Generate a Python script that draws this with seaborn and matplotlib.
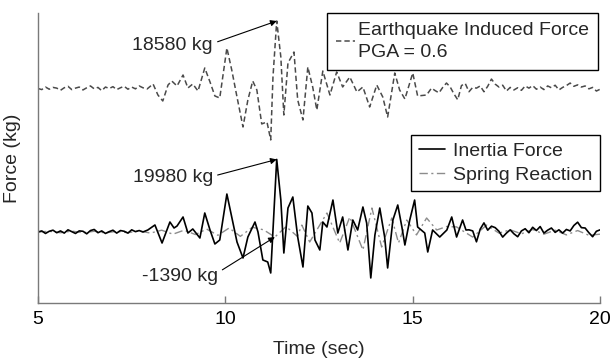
import matplotlib
matplotlib.use("Agg")
import matplotlib.pyplot as plt
import seaborn as sns
import pandas as pd

# Vertical shift that lifts the excitation trace above the response traces
EQ_OFFSET = 39500

# Earthquake induced force (kg)
eq_time = [5.0, 5.1, 5.2, 5.3, 5.4, 5.5, 5.6, 5.7, 5.8, 5.9, 6.0, 6.1, 6.2, 6.3, 6.4,
           6.5, 6.6, 6.7, 6.8, 6.9, 7.0, 7.1, 7.2, 7.3, 7.4, 7.5, 7.6, 7.7, 7.8,
           7.91, 8.07, 8.2, 8.33, 8.47, 8.57, 8.71, 8.87, 9.0, 9.13, 9.27, 9.45, 9.59,
           9.72, 9.85, 10.04, 10.17, 10.31, 10.47, 10.6, 10.73, 10.84, 10.97, 11.11,
           11.21, 11.27, 11.37, 11.48, 11.56, 11.67, 11.83, 11.93, 12.07, 12.2, 12.33,
           12.44, 12.6, 12.79, 12.97, 13.13, 13.32, 13.51, 13.67, 13.85, 14.04, 14.2,
           14.33, 14.52, 14.65, 14.79, 15.0, 15.13, 15.37,
           15.5, 15.6, 15.7, 15.8, 15.9, 16.0, 16.1, 16.2, 16.3, 16.4, 16.5, 16.6, 16.7,
           16.8, 16.9, 17.0, 17.1, 17.2, 17.3, 17.4, 17.5, 17.6, 17.7, 17.8, 17.9, 18.0,
           18.1, 18.2, 18.3, 18.4, 18.5, 18.6, 18.7, 18.8, 18.9, 19.0, 19.1, 19.2, 19.3,
           19.4, 19.5, 19.6, 19.7, 19.8, 19.9, 20.0]
eq_force = [0, -300, 400, -200, 300, 100, -500, 200, 600, -300, 100, 400, -400, 200, 700,
            -100, 300, -600, 400, 0, 500, -300, 200, 600, -200, 400, -100, 700, 200,
            -140, 1240, -1790, -3440, 960, 2060, 690, 3710, 140, 1240, -690, 5640, 1790,
            -2060, -2610, 11140, 5090, -2340, -10590, -3160, 2060, -410, -9760, -9210,
            -14160, 3160, 18580, 8660, -7290, 7010, 10040, -3160, -8660, 5910, 410,
            -5910, 4810, -1790, 4540, 410, 3160, -960, 410, -5090, 960, -2340,
            -7840, 4260, -410, -2890, 4260, -2060, -1790,
            100, -600, -1200, 300, 1500, 400, -1500, -3100, 800, 1400, -900, 300, 100,
            700, -900, 600, 2600, 1200, 400, 900, -700, 300, -400, 200, -500, 700,
            100, 800, -200, 400, -300, 700, 200, 900, -400, 300, 800, 1500, 600,
            1000, 400, 700, -100, 300, -700, -200]

# Inertia force (kg)
inertia_time = [5.0, 5.1, 5.2, 5.3, 5.4, 5.5, 5.6, 5.7, 5.8, 5.9, 6.0, 6.1, 6.2, 6.3,
                6.4, 6.5, 6.6, 6.7, 6.8, 6.9, 7.0, 7.1, 7.2, 7.3, 7.4, 7.5, 7.6, 7.7,
                7.8, 7.93, 8.12, 8.31, 8.52, 8.63, 8.71, 8.87, 9.0, 9.13, 9.32, 9.45,
                9.59, 9.72, 9.85, 10.04, 10.17, 10.31, 10.47, 10.6, 10.79, 10.87, 11.0,
                11.13, 11.21, 11.27, 11.37, 11.48, 11.56, 11.67, 11.8, 11.93, 12.07,
                12.2, 12.31, 12.39, 12.52, 12.6, 12.71, 12.87, 13.0, 13.13, 13.27, 13.4,
                13.53, 13.67, 13.77, 13.88, 13.99, 14.12, 14.25, 14.33, 14.47, 14.6,
                14.71, 14.79, 14.92, 15.05, 15.13, 15.32, 15.4, 15.53, 15.72, 15.91,
                16.04, 16.17, 16.33, 16.42,
                16.5, 16.6, 16.7, 16.8, 16.9, 17.0, 17.1, 17.2, 17.3, 17.4, 17.5, 17.6,
                17.7, 17.8, 17.9, 18.0, 18.1, 18.2, 18.3, 18.4, 18.5, 18.6, 18.7, 18.8,
                18.9, 19.0, 19.1, 19.2, 19.3, 19.4, 19.5, 19.6, 19.7, 19.8, 19.9, 20.0]
inertia_force = [0, 300, -400, 200, 500, -200, 300, -300, 600, 100, -400, 300, 200, -500,
                 400, 700, -200, 300, -400, 100, 500, -300, 400, 200, -300, 600, 100, 400,
                 0, 550, 1930, -3030, 2750, 1100, 1650, 4130, -280, 830, -1650, 5230,
                 550, -3300, -2200, 10450, 4130, -2750, -7150, -1380, 2750, 0, -7700,
                 -8250, -11280, 550, 19980, 8800, -5780, 6600, 9630, -1380, -9630,
                 7150, 5230, -2200, -4950, 2750, 1380, 8800, -280, 4130, -4950, 3300,
                 550, 6880, 2480, -12650, -830, 6600, -1380, -9900, 3300, 7430,
                 1380, -3580, 3300, 8800, 1380, -280, -5500, 550, -1380, 550,
                 4130, -1380, 3300, 550,
                 600, 300, -2700, 800, 2500, 500, 1600, 1200, 200, -1400, -300, 600,
                 -500, -1300, 300, 900, -200, 1300, 400, 1500, -300, 500, 1100, -100,
                 600, -300, 700, 300, 1800, 2700, 1200, 1100, -200, -1300, 200, 600]

# Spring reaction (kg)
spring_time = [5.0, 5.3, 5.6, 5.9, 6.2, 6.5, 6.8, 7.1, 7.4, 7.7, 8.0, 8.3, 8.6, 8.9, 9.2,
               9.5, 9.8, 10.1, 10.4, 10.72, 11.02, 11.32, 11.62, 11.92, 12.04, 12.25,
               12.71, 13.05, 13.32, 13.67, 13.91, 14.17, 14.44, 14.62, 14.84, 15.1,
               15.37, 15.64, 15.9, 16.17, 16.6, 16.97, 17.3, 17.6, 17.9, 18.2, 18.5,
               18.8, 19.1, 19.4, 19.7, 20.0]
spring_force = [0, 200, -200, 250, -200, 200, -250, 200, -200, 300, -300, 500, -600, 500,
                -700, 800, -900, 1100, -1200, 1300, 600, -1390, 1500, -1200, 1900, -2750,
                5230, -3030, 4130, -4950, 6600, -4130, 3850, -3000, 3300, -800,
                3850, 550, 1500, 1400, -1400, 1900, -300, 600, -500, 700, -600,
                500, -800, 400, -900, -600]

# Annotated values: (time, force)
eq_peak = (11.37, 18580)
inertia_peak = (11.37, 19980)
spring_point = (11.32, -1390)

AXIS_GREY = "#7a7a7a"

sns.set_theme(style="white")
plt.rcParams["font.family"] = ["Liberation Sans", "DejaVu Sans"]

fig, ax = plt.subplots(figsize=(6.13, 3.64), dpi=100)
fig.subplots_adjust(left=0.062, right=0.979, bottom=0.168, top=0.964)

eq_df = pd.DataFrame({"Time": eq_time, "Force": [v + EQ_OFFSET for v in eq_force]})
in_df = pd.DataFrame({"Time": inertia_time, "Force": inertia_force})
sp_df = pd.DataFrame({"Time": spring_time, "Force": spring_force})

sns.lineplot(data=sp_df, x="Time", y="Force", ax=ax, color="#8c8c8c",
             linewidth=1.0, estimator=None, legend=False)
spring_line = ax.lines[-1]
spring_line.set_dashes((6, 2.5, 1.5, 2.5))

sns.lineplot(data=in_df, x="Time", y="Force", ax=ax, color="black",
             linewidth=1.2, estimator=None, legend=False)
inertia_line = ax.lines[-1]

sns.lineplot(data=eq_df, x="Time", y="Force", ax=ax, color="#4a4a4a",
             linewidth=1.1, estimator=None, legend=False)
eq_line = ax.lines[-1]
eq_line.set_dashes((3.5, 2))

ax.set_xlim(5, 20)
ax.set_ylim(-19500, 60250)
ax.set_xticks([5, 10, 15, 20])
ax.set_yticks([])
ax.tick_params(axis="x", bottom=True, direction="in", length=5, width=1,
               color=AXIS_GREY, labelsize=14, pad=6, labelcolor="black")
for side in ("top", "right"):
    ax.spines[side].set_visible(False)
for side in ("left", "bottom"):
    ax.spines[side].set_color(AXIS_GREY)
    ax.spines[side].set_linewidth(1.0)

ax.set_xlabel("Time (sec)", fontsize=14, labelpad=9)
ax.set_ylabel("Force (kg)", fontsize=14, labelpad=12)

arrow = dict(arrowstyle="-|>", color="black", lw=0.8, mutation_scale=9,
             shrinkA=1, shrinkB=0)
ax.annotate("18580 kg", xy=(eq_peak[0], eq_peak[1] + EQ_OFFSET),
            xytext=(9.67, 51450), ha="right", va="center", fontsize=14,
            arrowprops=dict(arrow, relpos=(1.0, 0.6)))
ax.annotate("19980 kg", xy=inertia_peak, xytext=(9.67, 14875),
            ha="right", va="center", fontsize=14,
            arrowprops=dict(arrow, relpos=(1.0, 0.6)))
ax.annotate("-1390 kg", xy=spring_point, xytext=(9.8, -12350),
            ha="right", va="center", fontsize=14,
            arrowprops=dict(arrow, relpos=(1.0, 0.75)))

leg_style = dict(fontsize=14, frameon=True, fancybox=False, framealpha=1,
                 edgecolor="black", borderaxespad=0)
leg1 = ax.legend([eq_line], ["Earthquake Induced Force\nPGA = 0.6"],
                 loc="upper right", bbox_to_anchor=(0.996, 1.0),
                 handlelength=1.0, handletextpad=0.15, borderpad=0.45,
                 **leg_style)
leg1.get_texts()[0].set_linespacing(1.4)
leg1.get_frame().set_linewidth(1.0)
ax.add_artist(leg1)
leg2 = ax.legend([inertia_line, spring_line], ["Inertia Force", "Spring Reaction"],
                 loc="upper right", bbox_to_anchor=(1.0, 0.58),
                 handlelength=1.35, handletextpad=0.4, borderpad=0.4,
                 labelspacing=0.3, **leg_style)
leg2.get_frame().set_linewidth(1.0)

fig.savefig("out.png", dpi=100)
